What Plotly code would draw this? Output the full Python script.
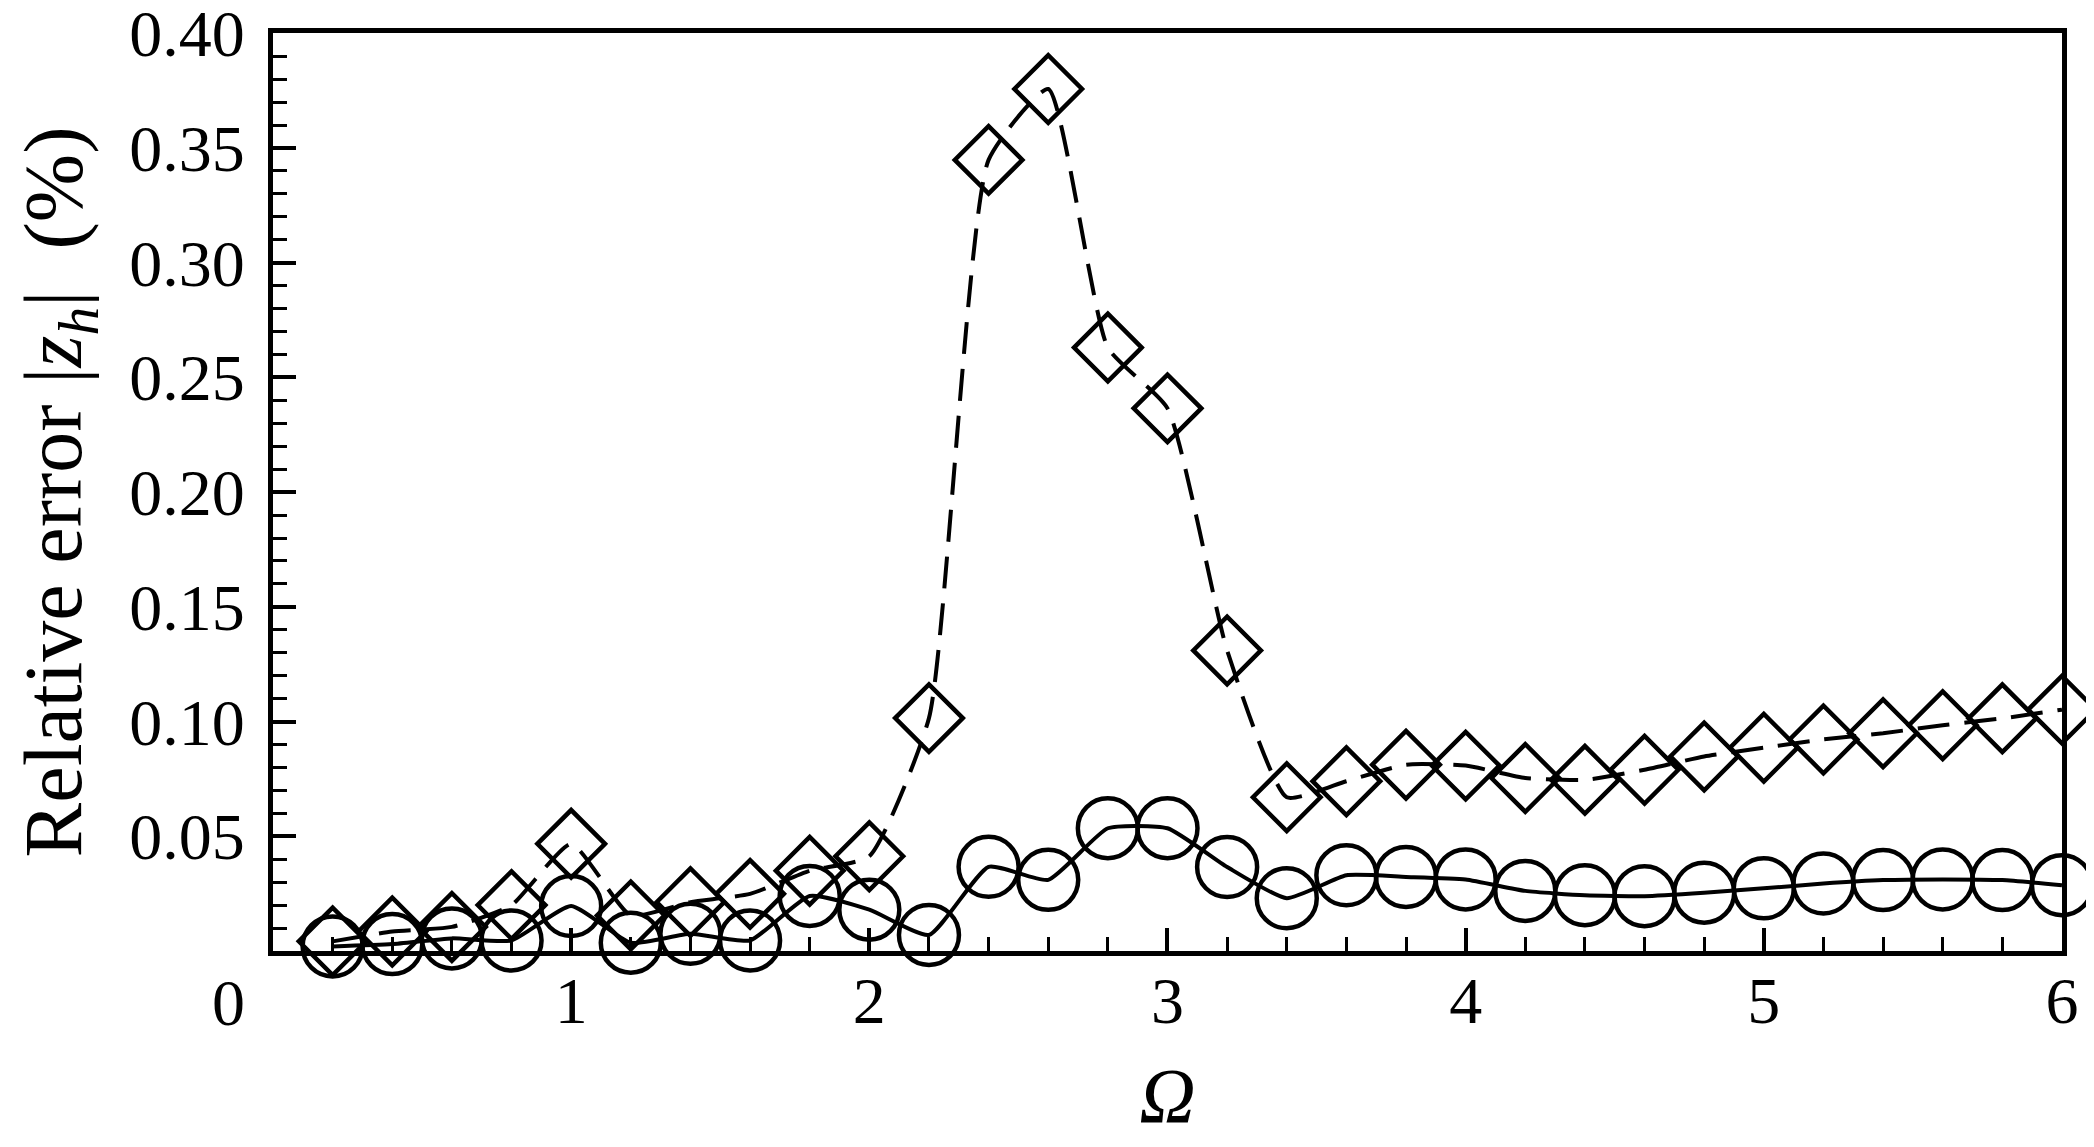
import plotly.graph_objects as go

omega = [0.2, 0.4, 0.6, 0.8, 1.0, 1.2, 1.4, 1.6, 1.8, 2.0,
         2.2, 2.4, 2.6, 2.8, 3.0, 3.2, 3.4, 3.6, 3.8, 4.0,
         4.2, 4.4, 4.6, 4.8, 5.0, 5.2, 5.4, 5.6, 5.8, 6.0]

err_diamond = [0.0042, 0.0085, 0.0105, 0.020, 0.0467, 0.0155, 0.0213, 0.0249, 0.035, 0.0413,
               0.1015, 0.3448, 0.3757, 0.263, 0.2365, 0.131, 0.067, 0.074, 0.0812, 0.0808,
               0.0754, 0.0746, 0.079, 0.0848, 0.0886, 0.0922, 0.0949, 0.0984, 0.1014, 0.1052]

err_circle = [0.002, 0.003, 0.0055, 0.0046, 0.0196, 0.0036, 0.0075, 0.0046, 0.024, 0.018,
              0.007, 0.0367, 0.031, 0.0535, 0.0535, 0.0366, 0.023, 0.033, 0.0323, 0.0312,
              0.0262, 0.0243, 0.0239, 0.0254, 0.0273, 0.0294, 0.0309, 0.0312, 0.0309, 0.0287]

x_ticks = [1, 2, 3, 4, 5, 6]
x_tick_text = ["1", "2", "3", "4", "5", "6"]
y_ticks = [0.05, 0.10, 0.15, 0.20, 0.25, 0.30, 0.35, 0.40]
y_tick_text = ["0.05", "0.10", "0.15", "0.20", "0.25", "0.30", "0.35", "0.40"]

FONT = "Liberation Serif"
NB = "\u00a0"

fig = go.Figure()
fig.add_trace(go.Scatter(
    x=omega, y=err_diamond, mode="lines+markers",
    line=dict(color="black", width=4, dash="32px,15px", shape="spline", smoothing=0.5),
    marker=dict(symbol="diamond-open", size=52, color="black", line=dict(color="black", width=4.5)),
    showlegend=False, cliponaxis=False))
fig.add_trace(go.Scatter(
    x=omega, y=err_circle, mode="lines+markers",
    line=dict(color="black", width=4, shape="spline", smoothing=0.5),
    marker=dict(symbol="circle-open", size=60, color="black", line=dict(color="black", width=4.5)),
    showlegend=False, cliponaxis=False))

axis_common = dict(
    showgrid=False, zeroline=False, showline=True, linecolor="black", linewidth=5,
    mirror=True, ticks="inside", tickcolor="black", tickwidth=3.5, ticklen=23,
    tickfont=dict(family=FONT, size=66, color="black"),
    ticklabeloverflow="allow", automargin=False,
)

fig.update_xaxes(
    range=[0, 6.0001], tickmode="array", tickvals=x_ticks, ticktext=x_tick_text,
    minor=dict(dtick=0.2, ticks="inside", ticklen=14, tickwidth=2.5, tickcolor="black"),
    title=dict(text="<i>Ω</i>", font=dict(family=FONT, size=78, color="black"), standoff=64),
    ticklabelstandoff=-12,
    **axis_common)
fig.update_yaxes(
    range=[0, 0.4001], tickmode="array", tickvals=y_ticks, ticktext=y_tick_text,
    minor=dict(dtick=0.01, ticks="inside", ticklen=14, tickwidth=2.5, tickcolor="black"),
    title=dict(text=NB + "Relative error" + NB + "|<i>z<sub>h</sub></i>|" + NB + NB + "(%)",
               font=dict(family=FONT, size=82, color="black"), standoff=76),
    ticklabelstandoff=10,
    **axis_common)

fig.add_annotation(text="0", xref="paper", yref="paper", x=-0.0246, y=-0.0565,
                   xanchor="center", yanchor="middle", showarrow=False,
                   font=dict(family=FONT, size=66, color="black"))

fig.update_layout(
    width=2078, height=1131,
    margin=dict(l=265, r=24, t=25, b=188),
    plot_bgcolor="white", paper_bgcolor="white",
)

fig.write_html("out.html")
